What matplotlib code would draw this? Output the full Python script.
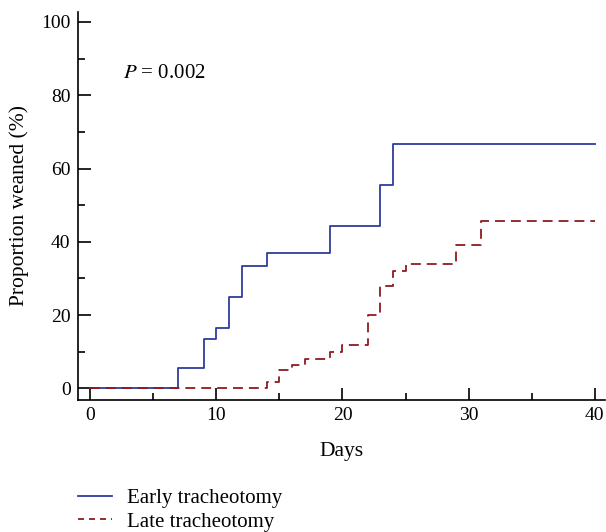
import matplotlib.pyplot as plt
from matplotlib.ticker import MultipleLocator
from matplotlib.lines import Line2D

# Kaplan-Meier style step data (day, proportion weaned %)
early_days = [0, 7, 9, 10, 11, 12, 14, 19, 23, 24, 40]
early_vals = [0, 5.5, 13.5, 16.5, 25, 33.5, 37, 44.4, 55.5, 66.7, 66.7]
late_days = [0, 14, 15, 16, 17, 19, 20, 22, 23, 24, 25, 29, 31, 40]
late_vals = [0, 1.7, 5, 6.5, 8, 10, 11.7, 20, 27.8, 32, 34, 39, 45.8, 45.8]

x_ticks = [0, 10, 20, 30, 40]
y_ticks = [0, 20, 40, 60, 80, 100]

plt.rcParams["font.family"] = ["Liberation Serif", "DejaVu Serif"]

fig = plt.figure(figsize=(6.06, 5.32), dpi=100)
ax = fig.add_axes([0.128, 0.248, 0.870, 0.730])

blue = "#2f3b9c"
red = "#8e1b1f"
ax.step(early_days, early_vals, where="post", color=blue, lw=1.3)
ax.step(late_days, late_vals, where="post", color=red, lw=1.3,
        linestyle=(0, (5.5, 3.3)))

ax.set_xlim(-1.0, 40.8)
ax.set_ylim(-3.2, 102.8)
ax.set_xticks(x_ticks)
ax.set_yticks(y_ticks)
ax.xaxis.set_minor_locator(MultipleLocator(5))
ax.yaxis.set_minor_locator(MultipleLocator(10))
ax.tick_params(which="major", direction="in", length=9, width=1.2,
               labelsize=14, pad=5)
ax.tick_params(which="minor", direction="in", length=5, width=1.2)
for s in ["top", "right"]:
    ax.spines[s].set_visible(False)
for s in ["left", "bottom"]:
    ax.spines[s].set_linewidth(1.2)

ax.set_xlabel("Days", fontsize=15.5, labelpad=13)
ax.set_ylabel("Proportion weaned (%)", fontsize=15.5, labelpad=9)

ax.text(2.6, 86, "$P$ = 0.002", fontsize=15, va="center", ha="left",
        math_fontfamily="stix")

handles = [Line2D([], [], color=blue, lw=1.3),
           Line2D([], [], color=red, lw=1.3, linestyle=(0, (3.3, 2.8)))]
fig.legend(handles, ["Early tracheotomy", "Late tracheotomy"],
           loc="upper left", bbox_to_anchor=(0.128, 0.082), frameon=False,
           fontsize=15, handlelength=1.65, handletextpad=0.72,
           labelspacing=0.2, borderpad=0, borderaxespad=0)

fig.savefig("out.png", dpi=100)
